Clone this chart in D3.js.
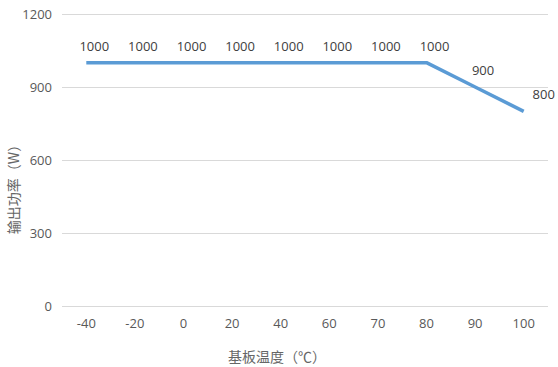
<!DOCTYPE html>
<html><head><meta charset="utf-8">
<script src="https://cdn.jsdelivr.net/npm/d3@7"></script>
<style>body{margin:0;background:#fff}svg{display:block}</style>
</head><body>
<svg id="c" width="558" height="367"></svg>
<script>
const categories = ["-40","-20","0","20","40","60","70","80","90","100"];
const power = [1000,1000,1000,1000,1000,1000,1000,1000,900,800];
const yTicks = [0,300,600,900,1200];
const yTitle = "输出功率（W）";
const xTitle = "基板温度（℃）";

(function(){
const svg = d3.select("#c");
const mL = 62, mR = 548, mT = 14, mB = 306;
const x = d3.scaleBand().domain(categories).range([mL, mR]);
const y = d3.scaleLinear().domain([0,1200]).range([mB, mT]);
const numFont = "'Open Sans', 'Liberation Sans', sans-serif";
const cjkFont = "'Noto Sans CJK SC', sans-serif";

// gridlines + y tick labels
const ya = svg.append("g").attr("transform", `translate(${mL},0)`)
  .call(d3.axisLeft(y).tickValues(yTicks).tickSize(-(mR-mL)).tickPadding(10).tickFormat(d3.format("d")));
ya.select(".domain").remove();
ya.selectAll(".tick line").attr("stroke","#d9d9d9").attr("stroke-width",1);
ya.selectAll(".tick text").attr("fill","#595959").style("font-family",numFont).style("font-size","13px");

// x axis labels
const xa = svg.append("g").attr("transform", `translate(0,${mB})`)
  .call(d3.axisBottom(x).tickSize(0).tickPadding(13));
xa.select(".domain").remove();
xa.selectAll(".tick text").attr("fill","#595959").style("font-family",numFont).style("font-size","13px");

// line
const cx = d => x(d) + x.bandwidth()/2;
svg.append("path")
  .datum(categories.map((c,i)=>[cx(c), y(power[i])]))
  .attr("fill","none").attr("stroke","#5b9bd5").attr("stroke-width",3.5)
  .attr("stroke-linejoin","round")
  .attr("d", d3.line());

// data labels
svg.append("g").selectAll("text").data(categories).join("text")
  .attr("x",(c,i)=> cx(c) + (i===categories.length-1 ? 20 : 8))
  .attr("y",(c,i)=> y(power[i]) - 12)
  .attr("text-anchor","middle")
  .attr("fill","#404040")
  .style("font-family",numFont).style("font-size","13px")
  .text((c,i)=>power[i]);

// axis titles
svg.append("text").attr("transform",`translate(19,186) rotate(-90)`)
  .attr("text-anchor","middle").attr("fill","#666")
  .style("font-family",cjkFont).style("font-size","14px").text(yTitle);
svg.append("text").attr("x",277).attr("y",362)
  .attr("text-anchor","middle").attr("fill","#666")
  .style("font-family",cjkFont).style("font-size","14px").text(xTitle);
})();
</script>
</body></html>
